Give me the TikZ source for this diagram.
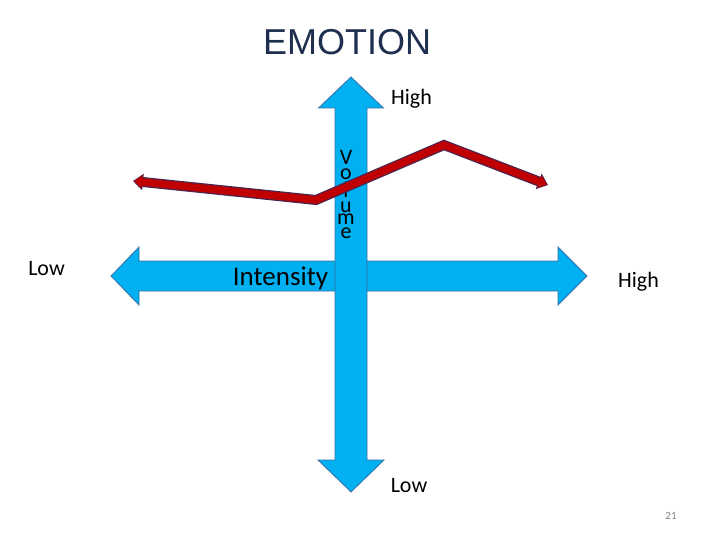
\documentclass[tikz,border=0pt]{standalone}
\usepackage{fontspec}
\setmainfont{Carlito}
\newfontfamily\titlefont{Liberation Sans}
\usetikzlibrary{arrows.meta}
\definecolor{axisblue}{HTML}{00B0F0}
\definecolor{axisedge}{HTML}{3B6FA6}
\definecolor{curvered}{HTML}{C00000}
\definecolor{curveedge}{HTML}{4A2550}
\definecolor{titlenavy}{HTML}{1F2F4F}
\tikzset{
  axisarrow/.style={fill=axisblue,draw=axisedge,line width=0.8pt,line join=miter},
  axislabel/.style={font=\fontsize{22}{26}\selectfont,inner sep=0pt,anchor=base},
  volletter/.style={font=\fontsize{22}{24}\selectfont,inner sep=0pt,anchor=base}
}
\begin{document}
\begin{tikzpicture}[x=1pt,y=-1pt]
\useasboundingbox (0,0) rectangle (720,540);
% title
\node[font=\titlefont\fontsize{36}{40}\selectfont,text=titlenavy,inner sep=0pt,anchor=base] (title) at (347,55) {EMOTION};
% intensity axis
\filldraw[axisarrow] (111,276) -- (139,247) -- (139,261) -- (558,261) -- (558,247) -- (587,276) -- (558,305) -- (558,291) -- (139,291) -- (139,305) -- cycle;
\node[font=\fontsize{27}{30}\selectfont,inner sep=0pt,anchor=base] (intensity) at (280.5,285) {Intensity};
% volume axis
\filldraw[axisarrow] (351,77) -- (383.5,108) -- (367,108) -- (367,460) -- (384,460) -- (351,492) -- (318,460) -- (335,460) -- (335,108) -- (318.5,108) -- cycle;
\foreach \ch/\yy in {V/165,o/180,l/197,u/213,m/225,e/239}
  \node[volletter] (vol-\ch) at (346,\yy) {\ch};
% axis ends
\node[axislabel] (vol-high) at (411.5,105) {High};
\node[axislabel] (vol-low) at (409,492) {Low};
\node[axislabel] (int-low) at (46.5,275) {Low};
\node[axislabel] (int-high) at (638.5,287) {High};
% emotion curve
\coordinate (curve-start) at (133,181);
\coordinate (curve-dip) at (316,200);
\coordinate (curve-peak) at (444,145);
\coordinate (curve-end) at (548,185);
\draw[curveedge,line width=10pt,line join=miter,{Triangle[length=10pt,width=16pt]}-{Triangle[length=10pt,width=16pt]}] (curve-start) -- (curve-dip) -- (curve-peak) -- (curve-end);
\draw[curvered,line width=7.5pt,line join=miter,{Triangle[length=8pt,width=12.5pt,sep=1.2pt]}-{Triangle[length=8pt,width=12.5pt,sep=1.2pt]}] (curve-start) -- (curve-dip) -- (curve-peak) -- (curve-end);
% slide number
\node[font=\fontsize{11}{13}\selectfont,text=gray,inner sep=0pt,anchor=base] (slide-no) at (671,519) {21};
\end{tikzpicture}
\end{document}
